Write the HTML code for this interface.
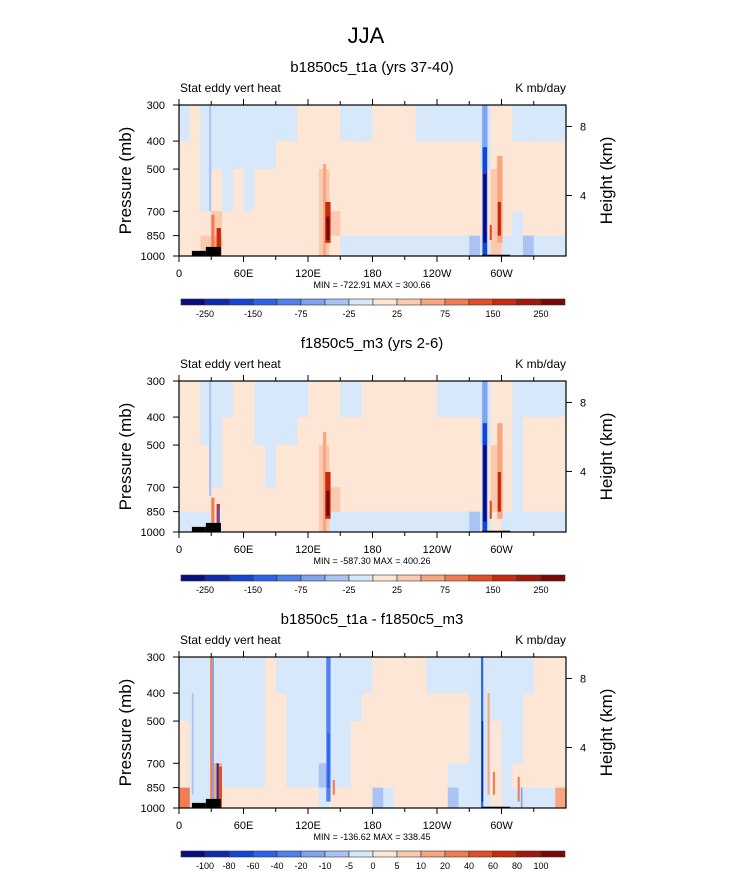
<!DOCTYPE html>
<html><head><meta charset="utf-8"><style>
html,body{margin:0;padding:0;background:#fff;}
svg{display:block;font-family:"Liberation Sans",Arial,sans-serif;}
</style></head><body>
<svg id="fig" width="733" height="888" viewBox="0 0 733 888" xmlns="http://www.w3.org/2000/svg">
<text x="366" y="43" font-size="22" text-anchor="middle">JJA</text>
</svg>
<script>
// ---------- data ----------
const rowBounds = [300,400,500,700,850,1000];
const xTickLons = [0,60,120,180,240,300];
const xTickLabels = ["0","60E","120E","180","120W","60W"];
const pTicks = [300,400,500,700,850,1000];
const hTicks = [8,4];
const hTickP = [356,617];
const panelTitles = ["b1850c5_t1a (yrs 37-40)","f1850c5_m3 (yrs 2-6)","b1850c5_t1a - f1850c5_m3"];
const minMaxText = ["MIN = -722.91   MAX = 300.66","MIN = -587.30   MAX = 400.26","MIN = -136.62   MAX = 338.45"];
const bounds12 = [-250,-200,-150,-100,-75,-50,-25,0,25,50,75,100,150,200,250];
const labels12 = ["-250","-150","-75","-25","25","75","150","250"];
const bounds3 = [-100,-80,-60,-40,-20,-10,-5,0,5,10,20,40,60,80,100];
const labels3 = ["-100","-80","-60","-40","-20","-10","-5","0","5","10","20","40","60","80","100"];
const palette = ["#0b0c7e","#0d2cae","#1446d6","#2a62ee","#4f80ef","#7ea3f0","#a9c4f4","#d6e8fa","#fde6d6","#fbc9ae","#f8a680","#f47c52","#e84d22","#c92a0e","#a2180a","#780808"];

const p1r0 = [-10,10,-10,-10,-10,-10,-10,-10,-10,-10,-10,10,10,10,10,-10,-10,-10,10,10,10,10,-10,-10,-10,-10,-10,-10,-10,10,10,-10,-10,-10,-10,-10];
const p1r1 = [10,10,-10,-10,-10,-10,-10,-10,-10,10,10,10,10,20,10,10,10,10,10,10,10,10,10,10,10,10,10,10,-10,10,10,10,10,10,10,10];
const p1r2 = [10,10,-10,10,-10,10,-10,10,10,10,10,10,10,30,20,10,10,10,10,10,10,10,10,10,10,10,10,10,10,30,10,10,10,10,10,10];
const p1r3 = [10,10,10,40,10,10,10,10,10,10,10,10,10,40,30,10,10,10,10,10,10,10,10,10,10,10,10,10,10,40,10,-10,10,10,10,10];
const p1r4 = [10,10,30,60,10,10,10,10,10,10,10,10,10,30,10,-10,-10,-10,-10,-10,-10,-10,-10,-10,-10,-10,-10,-30,-10,30,-10,-10,-30,-10,-10,-10];
const p2r0 = [10,10,-10,-10,-10,10,10,-10,-10,-10,-10,-10,10,10,10,-10,-10,10,10,10,10,10,10,10,-10,-10,-10,-10,-10,10,10,-10,-10,-10,-10,-10];
const p2r1 = [10,10,-10,-10,10,10,10,-10,-10,-10,-10,10,10,10,10,10,10,10,10,10,10,10,10,10,10,10,10,10,-10,10,10,-10,10,10,10,10];
const p2r2 = [10,10,10,-10,10,10,10,10,-10,10,10,10,10,30,20,10,10,10,10,10,10,10,10,10,10,10,10,10,10,30,10,-10,10,10,10,10];
const p2r3 = [10,10,10,10,10,10,10,10,10,10,10,10,10,40,30,10,10,10,10,10,10,10,10,10,10,10,10,10,10,40,10,-10,10,10,10,10];
const p2r4 = [-10,-10,-10,10,10,10,10,10,10,10,10,10,10,30,-10,-10,-10,-10,-10,-10,-10,-10,-10,-10,-10,-10,-10,-30,-10,10,-10,-10,-10,-10,-10,-10];
const p3r0 = [-2,-2,-2,-2,-2,-2,-2,-2,2,-2,-2,-2,-2,-2,-2,-2,-2,-2,2,2,2,2,2,-2,-2,-2,-2,-2,-2,-2,-2,-2,-2,2,2,2];
const p3r1 = [-2,-2,-2,-2,-2,-2,-2,-2,2,2,-2,-2,-2,-2,-2,-2,-2,2,2,2,2,2,2,2,2,2,2,-2,-2,-2,-2,-2,2,2,2,2];
const p3r2 = [2,-2,-2,-2,-2,-2,-2,-2,2,2,-2,-2,-2,-4,-2,-2,2,2,2,2,2,2,2,2,2,2,2,-2,-2,2,-2,-2,2,2,2,2];
const p3r3 = [2,-2,-2,10,-2,-2,-2,-2,2,2,-2,-2,-2,-7,-2,-2,2,2,2,2,2,2,2,2,2,-4,-4,-2,-2,2,-2,2,2,2,2,2];
const p3r4 = [20,-2,-2,10,2,2,2,2,2,2,2,2,2,-4,2,2,2,2,-7,-4,2,2,2,2,2,-7,-4,-2,-2,2,-2,-2,-2,-2,-2,10];
// stripes: [lon, width, pTop, pBottom, value]
const p1stripes = [[28,2,300,700,-40],[30,3,720,1000,80],[35,4,800,960,150],[128,2,300,1000,20],[134,3,480,1000,60],[136,5,650,900,150],[137,3,730,880,250],[282,5,300,1000,-75],[282.5,4,420,1000,-200],[283,3,520,900,-300],[296,5,450,900,60],[296.5,3,650,850,150],[289,2,780,880,100]];
const p2stripes = [[28,2,300,750,-40],[30,3,760,1000,80],[35,3,800,960,150],[36,1.5,820,960,-150],[126,2,300,1000,20],[134,3,450,1000,60],[136,5,620,900,150],[137,3,720,880,250],[282,5,300,1000,-75],[282.5,4,420,1000,-200],[283,3,500,920,-300],[296,5,420,900,60],[296.5,3,620,850,150],[289,2,780,900,100]];
const p3stripes = [[12,1.5,400,900,-7],[29,2,300,1000,20],[31,1.5,300,1000,-20],[35,2,700,1000,-100],[37,3,720,1000,40],[137,4,300,950,-30],[138,2,550,850,-60],[143,2,800,900,20],[281,2,300,1000,-60],[281.5,1.5,500,950,-100],[287,2,400,900,10],[292,2,750,900,20],[315,2,780,950,20],[318,1.5,850,1000,-20]];
// topography blocks: [lonStart, lonEnd, pTop]
const topo = [[12,25,960],[25,39,930],[282,308,990]];

// ---------- drawing ----------
const NS="http://www.w3.org/2000/svg";
const svg=document.getElementById('fig');
function mk(tag,attrs,parent){const e=document.createElementNS(NS,tag);for(const k in attrs)e.setAttribute(k,attrs[k]);(parent||svg).appendChild(e);return e;}
const X0=179, X1=566, PH=151;
const panelTops=[105,381,657];
function xs(lon){return X0+(lon/360)*(X1-X0);}
function ysFor(top){return p=>top+Math.log(p/300)/Math.log(1000/300)*PH;}
function colorOf(v,b){let i=0;while(i<b.length&&v>=b[i])i++;return palette[i];}

const panels=[
 {rows:[p1r0,p1r1,p1r2,p1r3,p1r4],stripes:p1stripes,b:bounds12,lab:labels12,labIdx:[0,2,4,6,8,10,12,14]},
 {rows:[p2r0,p2r1,p2r2,p2r3,p2r4],stripes:p2stripes,b:bounds12,lab:labels12,labIdx:[0,2,4,6,8,10,12,14]},
 {rows:[p3r0,p3r1,p3r2,p3r3,p3r4],stripes:p3stripes,b:bounds3,lab:labels3,labIdx:[0,1,2,3,4,5,6,7,8,9,10,11,12,13,14]}
];

panels.forEach((pn,pi)=>{
  const top=panelTops[pi], ys=ysFor(top), bot=top+PH;
  const g=mk('g',{});
  
  
  const t=mk('text',{x:372,y:top-33,'font-size':15,'text-anchor':'middle'},g);t.textContent=panelTitles[pi];
  
  const l=mk('text',{x:180,y:top-13,'font-size':12},g);l.textContent='Stat eddy vert heat';
  
  const u=mk('text',{x:566,y:top-13,'font-size':12,'text-anchor':'end'},g);u.textContent='K mb/day';
  
  const field=mk('g',{},g);
  
  pn.rows.forEach((row,ri)=>{
    row.forEach((v,ci)=>{
      const x=xs(ci*10), w=xs(ci*10+10)-x+0.3;
      const y=ys(rowBounds[ri]), h=ys(rowBounds[ri+1])-y+0.3;
      const r=mk('rect',{x:x,y:y,width:w,height:h,fill:colorOf(v,pn.b)},field);
      
    });
  });
  pn.stripes.forEach(s=>{
    const x=xs(s[0]), w=xs(s[0]+s[1])-x;
    const r=mk('rect',{x:x,y:ys(s[2]),width:w,height:ys(s[3])-ys(s[2]),fill:colorOf(s[4],pn.b)},field);
    
  });
  topo.forEach(tb=>{
    const r=mk('rect',{x:xs(tb[0]),y:ys(tb[2]),width:xs(tb[1])-xs(tb[0]),height:bot-ys(tb[2]),fill:'#000'},g);
    
  });
  const fr=mk('rect',{x:X0,y:top,width:X1-X0,height:PH,fill:'none',stroke:'#000','stroke-width':1.2},g);
  
  for(let lon=0;lon<=330;lon+=30){
    const major=lon%60===0, len=major?6:4, x=xs(lon);
    mk('line',{x1:x,y1:bot,x2:x,y2:bot+len,stroke:'#000'},g);
    mk('line',{x1:x,y1:top,x2:x,y2:top-len,stroke:'#000'},g);
  }
  xTickLons.forEach((lon,i)=>{
    const tx=mk('text',{x:xs(lon),y:bot+21,'font-size':11,'text-anchor':'middle'},g);tx.textContent=xTickLabels[i];
    
  });
  pTicks.forEach(p=>{
    mk('line',{x1:X0,y1:ys(p),x2:X0-6,y2:ys(p),stroke:'#000'},g);
    const tx=mk('text',{x:X0-14,y:ys(p)+4,'font-size':11,'text-anchor':'end'},g);tx.textContent=String(p);
    
  });
  hTicks.forEach((h,i)=>{
    const y=ys(hTickP[i]);
    mk('line',{x1:X1,y1:y,x2:X1+6,y2:y,stroke:'#000'},g);
    const tx=mk('text',{x:X1+14,y:y+4,'font-size':11},g);tx.textContent=String(h);
    
  });
  const yl=mk('text',{x:0,y:0,'font-size':17,'text-anchor':'middle',transform:`translate(131 ${top+PH/2}) rotate(-90)`},g);yl.textContent='Pressure (mb)';
  
  const hl=mk('text',{x:0,y:0,'font-size':17,'text-anchor':'middle',transform:`translate(612 ${top+PH/2}) rotate(-90)`},g);hl.textContent='Height (km)';
  
  const mm=mk('text',{x:372,y:bot+32,'font-size':9,'text-anchor':'middle'},g);mm.textContent=minMaxText[pi];
  
  const cb=mk('g',{},g);
  
  const cx0=181,cx1=565,cy=bot+43,ch=6,bw=(cx1-cx0)/16;
  palette.forEach((c,i)=>{
    const r=mk('rect',{x:cx0+i*bw,y:cy,width:bw,height:ch,fill:c,stroke:'#333','stroke-width':0.6},cb);
    
  });
  pn.labIdx.forEach((bi,k)=>{
    const tx=mk('text',{x:cx0+(bi+1)*bw,y:cy+18,'font-size':9,'text-anchor':'middle'},cb);tx.textContent=pn.lab[k];
    
  });
});
</script>
</body></html>
